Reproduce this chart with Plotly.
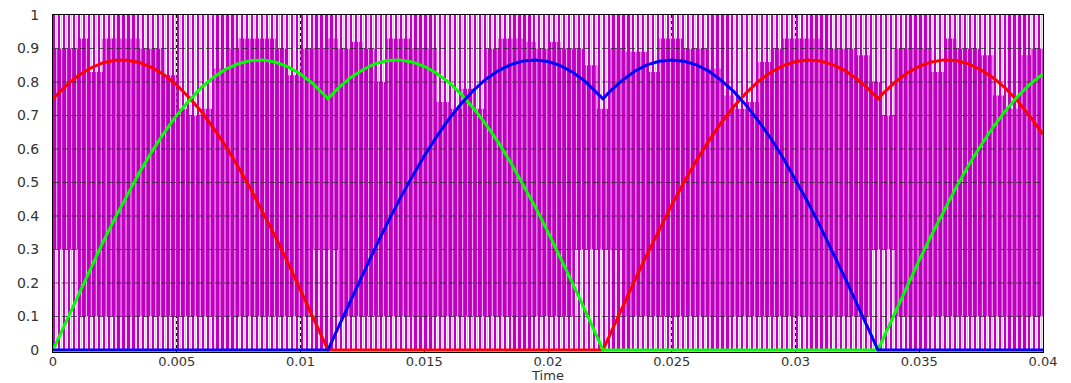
import plotly.graph_objects as go

# ---------------- data ----------------
# time axis in milliseconds (0.5 ms steps plus the corner points)
time_ms = ([i * 0.5 for i in range(0, 23)] + [11.111] +
           [11.5 + i * 0.5 for i in range(22)] + [22.222] +
           [22.5 + i * 0.5 for i in range(22)] + [33.333] +
           [33.5 + i * 0.5 for i in range(14)])

red = ([0.750, 0.787, 0.818, 0.841, 0.857, 0.865, 0.865, 0.858, 0.843, 0.821, 0.791, 0.754,
        0.711, 0.661, 0.606, 0.545, 0.479, 0.409, 0.336, 0.259, 0.180, 0.100, 0.018] + [0.0] +
       [0.0] * 22 + [0.0] +
       [0.045, 0.127, 0.207, 0.285, 0.361, 0.433, 0.502, 0.566, 0.625, 0.679, 0.726, 0.767,
        0.802, 0.829, 0.849, 0.861, 0.866, 0.863, 0.852, 0.834, 0.808, 0.776] + [0.750] +
       [0.763, 0.798, 0.826, 0.847, 0.860, 0.866, 0.864, 0.854, 0.836, 0.812, 0.780, 0.741,
        0.695, 0.644])

green = ([0.0, 0.081, 0.162, 0.242, 0.319, 0.393, 0.464, 0.531, 0.593, 0.650, 0.701, 0.745,
          0.784, 0.815, 0.839, 0.855, 0.864, 0.866, 0.859, 0.845, 0.824, 0.795, 0.759] + [0.750] +
         [0.780, 0.812, 0.836, 0.854, 0.864, 0.866, 0.860, 0.847, 0.826, 0.798, 0.763, 0.721,
          0.673, 0.619, 0.559, 0.494, 0.425, 0.352, 0.276, 0.198, 0.118, 0.036] + [0.0] +
         [0.0] * 22 + [0.0] +
         [0.027, 0.109, 0.189, 0.268, 0.344, 0.417, 0.487, 0.552, 0.612, 0.667, 0.716, 0.759,
          0.795, 0.824])

blue = ([0.0] * 23 + [0.0] +
        [0.063, 0.144, 0.224, 0.302, 0.377, 0.449, 0.516, 0.579, 0.637, 0.690, 0.736, 0.776,
         0.809, 0.834, 0.852, 0.863, 0.866, 0.861, 0.849, 0.829, 0.802, 0.767] + [0.750] +
        [0.772, 0.805, 0.832, 0.851, 0.862, 0.866, 0.862, 0.851, 0.832, 0.805, 0.772, 0.731,
         0.684, 0.632, 0.573, 0.509, 0.441, 0.369, 0.293, 0.215, 0.135, 0.054] + [0.0] +
        [0.0] * 14)

time_s = [v / 1000 for v in time_ms]

# PWM solid-magenta band, sampled every 0.5 ms
env_ms = [i * 0.5 for i in range(81)]
env_upper = [0.90, 0.90, 0.93, 0.83, 0.93, 0.93, 0.93, 0.90, 0.90, 0.82,
             0.72, 0.70, 0.72, 0.84, 0.90, 0.93, 0.93, 0.93, 0.90, 0.82,
             0.90, 0.90, 0.93, 0.90, 0.92, 0.90, 0.80, 0.93, 0.93, 0.90,
             0.90, 0.74, 0.72, 0.78, 0.72, 0.90, 0.93, 0.93, 0.92, 0.90,
             0.92, 0.90, 0.90, 0.85, 0.72, 0.90, 0.89, 0.89, 0.83, 0.93,
             0.93, 0.90, 0.90, 0.84, 0.76, 0.72, 0.74, 0.86, 0.90, 0.93,
             0.93, 0.93, 0.90, 0.90, 0.90, 0.88, 0.80, 0.70, 0.90, 0.90,
             0.90, 0.83, 0.93, 0.90, 0.90, 0.88, 0.76, 0.72, 0.88, 0.90,
             0.91]
env_lower = [0.3, 0.3, 0.1, 0.1, 0.1, 0.1, 0.1, 0.1, 0.1, 0.1,
             0.1, 0.1, 0.1, 0.1, 0.1, 0.1, 0.1, 0.1, 0.1, 0.1,
             0.1, 0.3, 0.3, 0.1, 0.1, 0.1, 0.1, 0.1, 0.1, 0.1,
             0.1, 0.1, 0.1, 0.1, 0.1, 0.1, 0.1, 0.1, 0.1, 0.1,
             0.1, 0.1, 0.3, 0.3, 0.3, 0.3, 0.1, 0.1, 0.1, 0.1,
             0.1, 0.1, 0.1, 0.1, 0.1, 0.1, 0.1, 0.1, 0.1, 0.1,
             0.1, 0.1, 0.1, 0.1, 0.1, 0.1, 0.3, 0.3, 0.1, 0.1,
             0.1, 0.1, 0.1, 0.1, 0.1, 0.1, 0.1, 0.1, 0.1, 0.1,
             0.1]
env_t = [v / 1000 for v in env_ms]

# carrier (switching) grid
CARRIER_PERIOD = 0.0002
N_PERIODS = 200
carrier = [k * CARRIER_PERIOD for k in range(N_PERIODS)]

y_ticks = [0, 0.1, 0.2, 0.3, 0.4, 0.5, 0.6, 0.7, 0.8, 0.9, 1.0]
y_labels = ["0", "0.1", "0.2", "0.3", "0.4", "0.5", "0.6", "0.7", "0.8", "0.9", "1"]
x_ticks = [0, 0.005, 0.01, 0.015, 0.02, 0.025, 0.03, 0.035, 0.04]
x_labels = ["0", "0.005", "0.01", "0.015", "0.02", "0.025", "0.03", "0.035", "0.04"]

MAGENTA = "#C000C0"
PALE = "rgb(238,178,238)"

fig = go.Figure()

# thin full-height pulses
fig.add_trace(go.Bar(
    x=carrier, y=[1.0] * N_PERIODS, base=0,
    width=0.45 * CARRIER_PERIOD, offset=0.02 * CARRIER_PERIOD,
    marker=dict(color=MAGENTA, line=dict(width=0)),
    hoverinfo="skip", showlegend=False))

# solid magenta band
fig.add_trace(go.Scatter(x=env_t, y=env_lower, mode="lines", line=dict(width=0, shape="hv"),
                         hoverinfo="skip", showlegend=False))
fig.add_trace(go.Scatter(x=env_t, y=env_upper, mode="lines", line=dict(width=0, shape="hv"),
                         fill="tonexty", fillcolor=MAGENTA, hoverinfo="skip", showlegend=False))

# thin pale gaps once per carrier period
gx, gy = [], []
for c in carrier:
    xc = c + 0.75 * CARRIER_PERIOD
    gx += [xc, xc, None]
    gy += [0, 1, None]
fig.add_trace(go.Scatter(x=gx, y=gy, mode="lines", line=dict(color=PALE, width=1.1),
                         hoverinfo="skip", showlegend=False))

# horizontal dashed gridlines drawn over the PWM texture
hx, hy = [], []
for v in y_ticks[1:-1]:
    hx += [0, 0.04, None]
    hy += [v, v, None]
fig.add_trace(go.Scatter(x=hx, y=hy, mode="lines",
                         line=dict(color="rgba(40,40,40,0.75)", width=1, dash="6px,3px"),
                         hoverinfo="skip", showlegend=False))

# modulating curves
fig.add_trace(go.Scatter(x=time_s, y=red, mode="lines", line=dict(color="#FF0000", width=3),
                         showlegend=False))
fig.add_trace(go.Scatter(x=time_s, y=green, mode="lines", line=dict(color="#00FF00", width=3),
                         showlegend=False))
fig.add_trace(go.Scatter(x=time_s, y=blue, mode="lines", line=dict(color="#0000FF", width=3),
                         showlegend=False))

yfont = dict(family="DejaVu Sans", size=14, color="#333333")
xfont = dict(family="DejaVu Sans", size=13, color="#333333")

fig.update_layout(
    width=1071, height=383,
    margin=dict(l=53, r=28, t=15, b=31, autoexpand=False),
    paper_bgcolor="white", plot_bgcolor="white",
    barmode="overlay", bargap=0,
    font=yfont,
    xaxis=dict(range=[0, 0.04], tickvals=x_ticks, ticktext=x_labels,
               showgrid=True, gridcolor="black", griddash="dot", gridwidth=1,
               showline=True, linecolor="black", linewidth=1, mirror=True,
               zeroline=False, ticks="", tickfont=xfont, ticklabelstandoff=-3,
               title=dict(text="Time", font=xfont, standoff=0)),
    yaxis=dict(range=[-0.006, 1.0], tickvals=y_ticks, ticktext=y_labels,
               showgrid=False, showline=True, linecolor="black", linewidth=1, mirror=True,
               zeroline=False, ticks="", tickfont=yfont, ticklabelstandoff=10),
)

fig.write_html("out.html")
